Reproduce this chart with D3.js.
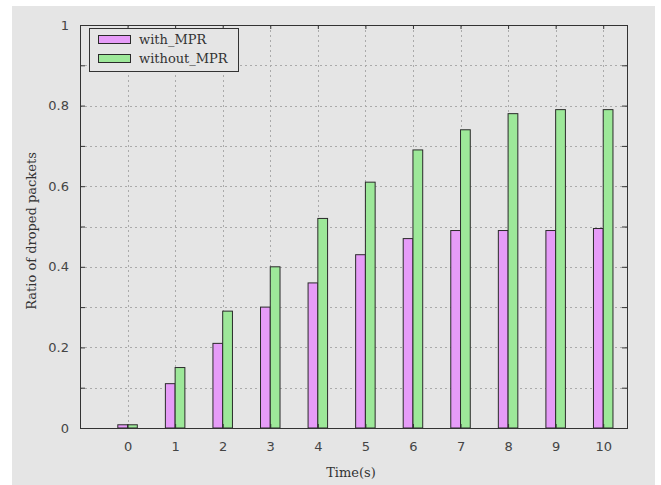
<!DOCTYPE html>
<html>
<head>
<meta charset="utf-8">
<script src="https://cdn.jsdelivr.net/npm/d3@7/dist/d3.min.js"></script>
<style>
  html, body { margin: 0; padding: 0; background: #ffffff; }
  svg { display: block; }
</style>
</head>
<body>
<script>
// ---- data ----
const categories = [0, 1, 2, 3, 4, 5, 6, 7, 8, 9, 10];
const withMPR    = [0.008, 0.11, 0.21, 0.30, 0.36, 0.43, 0.47, 0.49, 0.49, 0.49, 0.495];
const withoutMPR = [0.008, 0.15, 0.29, 0.40, 0.52, 0.61, 0.69, 0.74, 0.78, 0.79, 0.79];
const seriesNames = ["with_MPR", "without_MPR"];
const yTickValues = [0, 0.1, 0.2, 0.3, 0.4, 0.5, 0.6, 0.7, 0.8, 0.9, 1];
const yTickLabels = ["0", "", "0.2", "", "0.4", "", "0.6", "", "0.8", "", "1"];
const xLabel = "Time(s)";
const yLabel = "Ratio of droped packets";

// ---- layout ----
const W = 661, H = 485;
const pL = 80, pR = 627, pT = 25, pB = 428;
const colors = ["#e69cf8", "#9de899"];
const serif = "'DejaVu Serif', serif";
const sans = "'DejaVu Sans', sans-serif";

const svg = d3.select("body").append("svg").attr("width", W).attr("height", H);
svg.append("rect").attr("x", 12).attr("y", 6).attr("width", 643).attr("height", H - 6).attr("fill", "#e5e5e5");

const x = d3.scaleLinear().domain([-1, 10.5]).range([pL, pR]);
const y = d3.scaleLinear().domain([0, 1]).range([pB, pT]);

// grid
const grid = svg.append("g").attr("stroke", "#aaaaaa").attr("stroke-width", 1).attr("stroke-dasharray", "2,3");
grid.selectAll("line.h").data(yTickValues.filter(v => v > 0 && v < 1)).join("line")
  .attr("x1", pL).attr("x2", pR)
  .attr("y1", d => Math.round(y(d)) + 0.5).attr("y2", d => Math.round(y(d)) + 0.5);
grid.selectAll("line.v").data(categories).join("line")
  .attr("y1", pT).attr("y2", pB)
  .attr("x1", d => Math.round(x(d)) + 0.5).attr("x2", d => Math.round(x(d)) + 0.5);

// bars
const barW = 0.205;
const bars = svg.append("g").attr("stroke", "#2a2a2a").attr("stroke-width", 1);
bars.selectAll("rect.a").data(categories).join("rect")
  .attr("x", (d) => x(d - barW))
  .attr("width", x(barW) - x(0))
  .attr("y", (d, i) => y(withMPR[i]))
  .attr("height", (d, i) => y(0) - y(withMPR[i]))
  .attr("fill", colors[0]);
bars.selectAll("rect.b").data(categories).join("rect")
  .attr("x", (d) => x(d))
  .attr("width", x(barW) - x(0))
  .attr("y", (d, i) => y(withoutMPR[i]))
  .attr("height", (d, i) => y(0) - y(withoutMPR[i]))
  .attr("fill", colors[1]);

// axes
function styleAxis(g) {
  g.select(".domain").remove();
  g.selectAll(".tick line").attr("stroke", "#333");
  g.selectAll(".tick text").attr("fill", "#444").style("font-family", sans).style("font-size", "13px");
}
svg.append("g").attr("transform", `translate(${pL},0)`)
  .call(d3.axisLeft(y).tickValues(yTickValues).tickFormat((d, i) => yTickLabels[i]).tickSizeInner(-5).tickSizeOuter(0).tickPadding(11))
  .call(styleAxis);
svg.append("g").attr("transform", `translate(${pR},0)`)
  .call(d3.axisRight(y).tickValues(yTickValues).tickFormat("").tickSizeInner(-5).tickSizeOuter(0))
  .call(styleAxis);
svg.append("g").attr("transform", `translate(0,${pB})`)
  .call(d3.axisBottom(x).tickValues(categories).tickFormat(d3.format("d")).tickSizeInner(-4).tickSizeOuter(0).tickPadding(14))
  .call(styleAxis);
svg.append("g").attr("transform", `translate(0,${pT})`)
  .call(d3.axisTop(x).tickValues(categories).tickFormat("").tickSizeInner(-4).tickSizeOuter(0))
  .call(styleAxis);

// border
svg.append("rect").attr("x", pL + 0.5).attr("y", pT + 0.5)
  .attr("width", pR - pL).attr("height", pB - pT)
  .attr("fill", "none").attr("stroke", "#333").attr("stroke-width", 1);

// axis labels
svg.append("text").attr("x", 351).attr("y", 477)
  .attr("text-anchor", "middle").attr("fill", "#333")
  .style("font-family", serif).style("font-size", "13px").text(xLabel);
svg.append("text").attr("transform", `translate(36,231) rotate(-90)`)
  .attr("text-anchor", "middle").attr("fill", "#333")
  .style("font-family", serif).style("font-size", "13px").text(yLabel);

// legend
const lg = svg.append("g");
lg.append("rect").attr("x", 89.5).attr("y", 28.5).attr("width", 149).attr("height", 43)
  .attr("fill", "#e5e5e5").attr("stroke", "#333").attr("stroke-width", 1);
seriesNames.forEach((name, i) => {
  lg.append("rect").attr("x", 98.5).attr("y", 35.5 + i * 19).attr("width", 32).attr("height", 8)
    .attr("fill", colors[i]).attr("stroke", "#2a2a2a").attr("stroke-width", 1);
  lg.append("text").attr("x", 139).attr("y", 44 + i * 19).attr("fill", "#333")
    .style("font-family", serif).style("font-size", "13px").text(name);
});
</script>
</body>
</html>
